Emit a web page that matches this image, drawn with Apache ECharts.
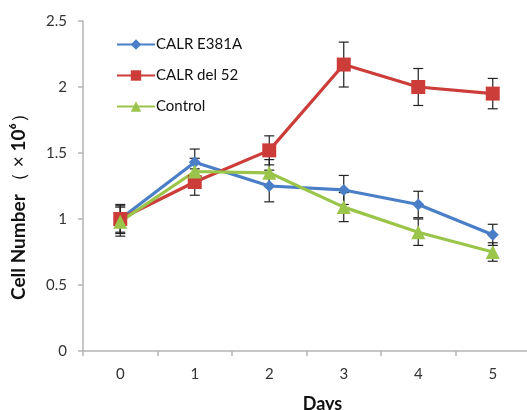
<!DOCTYPE html>
<html>
<head>
<meta charset="utf-8">
<script src="https://cdn.jsdelivr.net/npm/echarts@6/dist/echarts.min.js"></script>
<style>html,body{margin:0;padding:0;background:#fff}#c{width:527px;height:410px}</style>
</head>
<body>
<div id="c"></div>
<script>
const days = ['0', '1', '2', '3', '4', '5'];
const e381a = [1.0, 1.43, 1.25, 1.22, 1.11, 0.88];
const e381aErr = [0.11, 0.1, 0.12, 0.11, 0.1, 0.08];
const del52 = [1.0, 1.28, 1.52, 2.17, 2.0, 1.95];
const del52Err = [0.1, 0.1, 0.11, 0.17, 0.14, 0.115];
const control = [0.98, 1.36, 1.35, 1.09, 0.9, 0.75];
const controlErr = [0.11, 0.1, 0.1, 0.11, 0.1, 0.07];
const yTicks = [0, 0.5, 1, 1.5, 2, 2.5];

const colors = ['#4a7fc8', '#cc3d3a', '#9bc54a'];
const FONT = 'Lato, "Open Sans", sans-serif';

function errSeries(name, vals, errs) {
  return {
    type: 'custom',
    name: name,
    z: 1,
    silent: true,
    data: vals.map((v, i) => [i, v, errs[i]]),
    renderItem: function (params, api) {
      const x = api.value(0), v = api.value(1), e = api.value(2);
      const top = api.coord([x, v + e]);
      const bot = api.coord([x, v - e]);
      const cw = 5;
      const st = { stroke: '#222', lineWidth: 1.2 };
      return {
        type: 'group',
        children: [
          { type: 'line', shape: { x1: top[0], y1: top[1], x2: bot[0], y2: bot[1] }, style: st },
          { type: 'line', shape: { x1: top[0] - cw, y1: top[1], x2: top[0] + cw, y2: top[1] }, style: st },
          { type: 'line', shape: { x1: bot[0] - cw, y1: bot[1], x2: bot[0] + cw, y2: bot[1] }, style: st }
        ]
      };
    }
  };
}

function lineSeries(name, vals, color, symbol, size) {
  return {
    type: 'line',
    name: name,
    data: vals,
    z: 3,
    symbol: symbol,
    symbolSize: size,
    showAllSymbol: true,
    lineStyle: { color: color, width: 3.2 },
    itemStyle: { color: color },
    emphasis: { disabled: true }
  };
}

const chart = echarts.init(document.getElementById('c'), null, { renderer: 'canvas' });
chart.setOption({
  animation: false,
  textStyle: { fontFamily: FONT },
  grid: { left: 83, top: 21, width: 447, height: 330, containLabel: false, outerBoundsMode: 'none' },
  legend: {
    orient: 'vertical',
    left: 111,
    top: 32,
    itemWidth: 38,
    itemHeight: 13,
    itemGap: 16,
    data: ['CALR E381A', 'CALR del 52', 'Control'],
    textStyle: { fontFamily: FONT, fontSize: 15, color: '#111', padding: [0, 0, 0, -4] }
  },
  xAxis: {
    type: 'category',
    data: days,
    boundaryGap: true,
    axisLine: { show: true, lineStyle: { color: '#b5b5b5', width: 1.5 } },
    axisTick: { show: true, length: 5, lineStyle: { color: '#b5b5b5', width: 1.5 } },
    axisLabel: { color: '#333', fontSize: 15, margin: 16, fontFamily: FONT },
    name: 'Days',
    nameLocation: 'middle',
    nameGap: 44,
    nameTextStyle: { fontWeight: 'bold', fontSize: 18, color: '#111', fontFamily: FONT, padding: [0, 0, 0, 32] }
  },
  yAxis: {
    type: 'value',
    min: 0,
    max: 2.5,
    interval: 0.5,
    splitLine: { show: false },
    axisLine: { show: true, lineStyle: { color: '#b5b5b5', width: 1.5 } },
    axisTick: { show: true, length: 5, lineStyle: { color: '#b5b5b5', width: 1.5 } },
    axisLabel: { color: '#333', fontSize: 15, margin: 16, fontFamily: FONT },
    name: '{b|Cell Number} {n|（ × }{b|10⁶}{n|）}',
    nameLocation: 'middle',
    nameGap: 55,
    nameRotate: 90,
    nameTextStyle: {
      padding: [0, 32, 0, 0],
      rich: {
        b: { fontWeight: 'bold', fontSize: 19, color: '#111', fontFamily: FONT },
        n: { fontSize: 19, color: '#111', fontFamily: FONT }
      }
    }
  },
  series: [
    errSeries('errA', e381a, e381aErr),
    errSeries('errB', del52, del52Err),
    errSeries('errC', control, controlErr),
    lineSeries('CALR E381A', e381a, colors[0], 'diamond', 12),
    lineSeries('CALR del 52', del52, colors[1], 'rect', 14),
    lineSeries('Control', control, colors[2], 'triangle', 14)
  ]
});
</script>
</body>
</html>
